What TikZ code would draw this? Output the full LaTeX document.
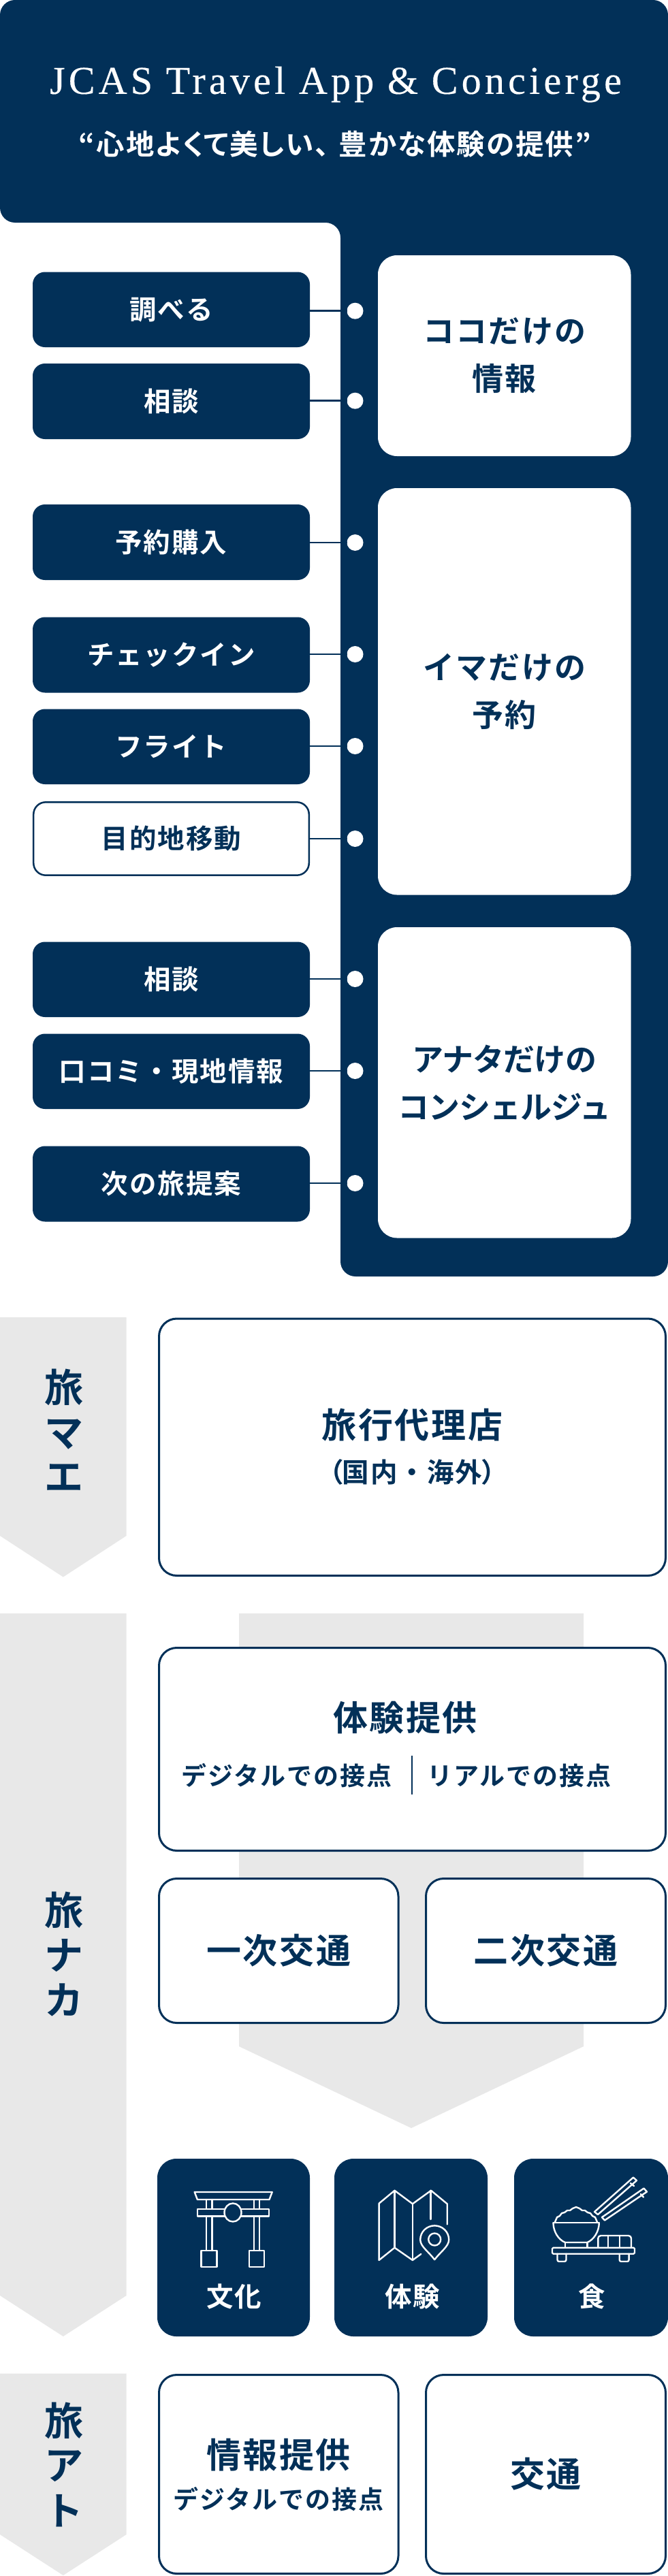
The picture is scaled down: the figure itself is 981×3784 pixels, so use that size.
\documentclass[tikz,border=0pt]{standalone}
\usepackage{fontspec}
\setmainfont{Noto Sans CJK JP Bold}[RawFeature={+palt}]
\newfontfamily\jpn{Noto Sans CJK JP Bold}[LetterSpace=5]
\newfontfamily\jpnt{Noto Sans CJK JP Bold}[LetterSpace=-2]
\newfontfamily\jpnp{Noto Sans CJK JP Bold}[RawFeature={+palt},LetterSpace=5]
\newfontfamily\ttl{Liberation Serif}[LetterSpace=9,FakeBold=0.3]
\definecolor{navy}{HTML}{023058}
\definecolor{band}{HTML}{E8E8E8}
\newcommand{\fs}[1]{\fontsize{#1}{#1}\selectfont}
\newcommand{\mkbox}[7]{%
  \pgfmathsetmacro\cxx{(#3+#5)/2}\pgfmathsetmacro\cyy{(#4+#6)/2}%
  \pgfmathsetmacro\ww{#5-#3}\pgfmathsetmacro\hh{#6-#4}%
  \node[#1,minimum width=\ww pt,minimum height=\hh pt] (#2) at (\cxx,\cyy) {#7};}
\tikzset{
  x=1pt,y=-1pt,
  basebox/.style={rectangle,inner sep=0pt,outer sep=0pt,align=center},
  pill/.style={basebox,fill=navy,text=white,rounded corners=18pt,font=\jpn\fs{39.5}},
  pillw/.style={basebox,draw=navy,line width=2.5pt,fill=white,text=navy,rounded corners=18pt,font=\jpn\fs{39.5}},
  inner/.style={basebox,fill=white,text=navy,rounded corners=28pt,font=\jpn\fs{46}},
  lined/.style={basebox,draw=navy,line width=3pt,fill=white,text=navy,rounded corners=26pt,font=\jpn\fs{51}},
  tile/.style={basebox,fill=navy,text=white,rounded corners=28pt},
  lbl/.style={inner sep=0pt,outer sep=0pt,text=navy},
  tilelbl/.style={inner sep=0pt,outer sep=0pt,text=white,font=\jpn\fs{39.5}},
  side/.style={inner sep=0pt,outer sep=0pt,text=navy,font=\jpn\fs{57}},
  small/.style={lbl,font=\jpn\fs{37}},
  dot/.style={circle,fill=white,inner sep=0pt,outer sep=0pt,minimum size=24pt},
  conn/.style={draw=navy,line width=2.8pt},
  ico/.style={draw=white,line width=2.4pt,line join=round,line cap=round},
  bandf/.style={fill=band,draw=none},
}
\begin{document}
\begin{tikzpicture}
\useasboundingbox (0,0) rectangle (981,3784);
\fill[white] (0,0) rectangle (981,3784);
% header + column
\fill[navy,rounded corners=22pt] (0,0) -- (981,0) -- (981,1875) -- (500,1875) -- (500,327) -- (0,327) -- cycle;
\node[inner sep=0pt,text=white,font=\ttl\fs{58}] (title) at (493,124) {JCAS Travel App \& Concierge};
\node[inner sep=0pt,text=white,font=\jpnp\fs{41.5}] (subtitle) at (492,212) {“心地よくて美しい、\kern14pt 豊かな体験の提供”};
% white panels
\mkbox{inner}{p1}{555}{375}{926.5}{670}{ココだけの\\[24pt]情報}
\mkbox{inner}{p2}{555}{717}{926.5}{1314.5}{イマだけの\\[24pt]予約}
\mkbox{inner}{p3}{555}{1362}{926.5}{1818.5}{{\jpnt アナタだけの}\\[24pt]{\jpnt コンシェルジュ}}
% left boxes
\mkbox{pill}{a1}{48}{399.5}{455}{510}{調べる}
\mkbox{pill}{a2}{48}{534}{455}{645}{相談}
\mkbox{pill}{b1}{48}{741}{455}{852}{予約購入}
\mkbox{pill}{b2}{48}{906.5}{455}{1017.5}{チェックイン}
\mkbox{pill}{b3}{48}{1041.5}{455}{1152}{フライト}
\mkbox{pillw}{b4}{49.2}{1178.3}{453.8}{1285.7}{目的地移動}
\mkbox{pill}{c1}{48}{1383.5}{455}{1494}{相談}
\mkbox{pill}{c2}{48}{1518.5}{455}{1629}{口コミ・現地情報}
\mkbox{pill}{c3}{48}{1683.5}{455}{1794.5}{次の旅提案}
% dots + connectors
\foreach \n/\yy in {a1/456.7,a2/588.7,b1/797,b2/961,b3/1096,b4/1232,c1/1438,c2/1573,c3/1738}{
  \node[dot] (d\n) at (521.5,\yy) {};
  \draw[conn] (\n.east |- d\n.west) -- (d\n.west);
}
% side bands
\path[bandf] (0,1935) -- (185.6,1935) -- (185.6,2256) -- (92.8,2316.5) -- (0,2256) -- cycle;
\path[bandf] (0,2370) -- (185.6,2370) -- (185.6,3372) -- (92.8,3432) -- (0,3372) -- cycle;
\path[bandf] (0,3486.5) -- (185.6,3486.5) -- (185.6,3723) -- (92.8,3783) -- (0,3723) -- cycle;
\path[bandf] (351,2370) -- (857,2370) -- (857,3006) -- (604,3126) -- (351,3006) -- cycle;
\node[side] (m1) at (94,2038) {旅};
\node[side] (m2) at (94,2107) {マ};
\node[side] (m3) at (94,2171) {エ};
\node[side] (n1) at (94,2806) {旅};
\node[side] (n2) at (94,2872.5) {ナ};
\node[side] (n3) at (94,2938) {カ};
\node[side] (o1) at (94,3556) {旅};
\node[side] (o2) at (94,3623) {ア};
\node[side] (o3) at (94,3688.6) {ト};
% boxes
\mkbox{lined}{agency}{233.5}{1937}{977.5}{2314.5}{旅行代理店\\[14pt]{\fs{39.5}{\jpnp（}{\jpn 国内・海外}{\jpnp ）}}}
\mkbox{lined}{exp}{233.5}{2420.5}{977.5}{2718.5}{}
\node[lbl,font=\jpn\fs{51}] (exptitle) at (595,2523) {体験提供};
\node[small] (expd) at (421,2608) {デジタルでの接点};
\node[small] (expr) at (762.5,2608) {リアルでの接点};
\draw[navy,line width=2.5pt] (605,2579) -- (605,2636);
\mkbox{lined}{tr1}{233.5}{2759.5}{585}{2971.5}{一次交通}
\mkbox{lined}{tr2}{625.5}{2759.5}{977.5}{2971.5}{二次交通}
\mkbox{tile}{t1}{231}{3171}{455}{3432}{}
\mkbox{tile}{t2}{491}{3171}{716}{3432}{}
\mkbox{tile}{t3}{755}{3171}{981}{3432}{}
\node[tilelbl] (t1l) at (344,3373.5) {文化};
\node[tilelbl] (t2l) at (606,3373.5) {体験};
\node[tilelbl] (t3l) at (869,3373.5) {食};
\mkbox{lined}{i1}{233.5}{3488.5}{585}{3780.5}{}
\node[lbl,font=\jpn\fs{51}] (i1a) at (409,3606) {情報提供};
\node[small] (i1b) at (409,3671.5) {デジタルでの接点};
\mkbox{lined}{i2}{625.5}{3488.5}{977.5}{3780.5}{交通}
% torii
\begin{scope}[ico]
\draw (285.7,3220) -- (399.7,3220) -- (395.5,3231) -- (289.9,3231) -- cycle;
\draw (303,3231) -- (303,3245) (311.5,3231) -- (311.5,3245) (373,3231) -- (373,3245) (381,3231) -- (381,3245);
\draw (329.5,3245) -- (290,3245) -- (290,3255.5) -- (329.5,3255.5);
\draw (354.5,3245) -- (395,3245) -- (395,3255.5) -- (354.5,3255.5);
\draw (342,3250) ellipse [x radius=12.5,y radius=13.5];
\draw (303,3255.5) -- (303,3306) (311.5,3255.5) -- (311.5,3306) (373,3255.5) -- (373,3306) (381,3255.5) -- (381,3306);
\draw (295.6,3306) rectangle (318.5,3330);
\draw (366,3306) rectangle (388,3330);
% map
\draw (556.6,3320) -- (556.6,3236.7) -- (579.5,3217.7) -- (605.9,3237.3) -- (633,3217.7) -- (656.7,3237.3) -- (656.7,3267.3);
\draw (579.5,3217.7) -- (579.5,3301.7);
\draw (605.9,3237.3) -- (605.9,3320);
\draw (632.3,3217.7) -- (632.3,3260);
\draw (556.6,3320) -- (579.5,3301.7) -- (605.9,3320) -- (618.3,3311);
\draw (638.2,3319.3) .. controls (630,3308) and (617.2,3300) .. (617.2,3290) .. controls (617.2,3278) and (627,3269.3) .. (638.2,3269.3) .. controls (649.4,3269.3) and (659.2,3278) .. (659.2,3290) .. controls (659.2,3300) and (646.4,3308) .. (638.2,3319.3);
\draw (638.2,3289.5) ellipse [x radius=9,y radius=9];
% food
\draw (873,3249) -- (930,3198.5) -- (935,3203) -- (878,3253) -- cycle;
\draw (884,3257) -- (945.5,3214.5) -- (950,3219.5) -- (888,3261.5) -- cycle;
\draw (926,3207) -- (931,3211) (941,3223) -- (945,3227.5);
\draw (815,3264) -- (818,3257) -- (822,3255) -- (825,3251) -- (829,3250) -- (833,3247) -- (837,3247) -- (841,3244) -- (846,3242) -- (851,3244) -- (855,3247) -- (859,3247) -- (863,3250) -- (867,3251) -- (870,3255) -- (874,3257) -- (877,3264);
\draw (812.5,3265) -- (879.8,3265);
\draw (812.5,3265) .. controls (812.5,3278) and (820,3290) .. (830,3294) -- (862.4,3294) .. controls (872,3290) and (879.8,3278) .. (879.8,3265);
\draw (830,3294) -- (830,3301.7) (862.4,3294) -- (862.4,3301.7);
\draw[rounded corners=1.5pt] (811,3301.7) rectangle (932,3310.7);
\draw[rounded corners=2.5pt] (818.5,3310.7) -- (818.5,3322) -- (831.5,3322) -- (831.5,3310.7);
\draw[rounded corners=2.5pt] (909.7,3310.7) -- (909.7,3322) -- (923.6,3322) -- (923.6,3310.7);
\draw[rounded corners=4pt] (878.3,3301.7) -- (878.3,3284) -- (927,3284) -- (927,3301.7);
\draw (893.2,3284) -- (893.2,3301.7) (909.7,3284) -- (909.7,3301.7);
\end{scope}
\end{tikzpicture}
\end{document}
